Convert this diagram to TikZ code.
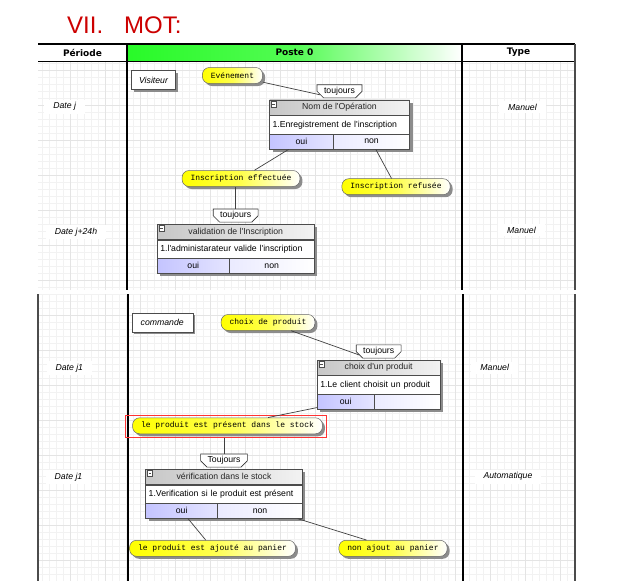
\documentclass[tikz,border=0pt]{standalone}
\usepackage{fontspec}
\setmainfont{Liberation Sans}[Ligatures=TeXOff]
\newfontfamily\pillfont{Liberation Mono}
\newfontfamily\headfont{DejaVu Sans}
\usetikzlibrary{positioning,shadows,shapes.misc}
\definecolor{titlered}{RGB}{204,0,0}
\definecolor{postegreen}{RGB}{40,250,40}
\definecolor{pillyellow}{RGB}{255,255,0}
\definecolor{lavender}{RGB}{196,196,255}
\definecolor{gridminor}{RGB}{242,242,242}
\definecolor{gridmajor}{RGB}{228,228,228}
\begin{document}
\begin{tikzpicture}[x=1pt, y=-1pt,
every node/.style={font=\fontsize{8.7pt}{10pt}\selectfont},
titletext/.style={text=titlered, inner sep=0pt, font=\fontsize{24pt}{28pt}\selectfont},
headtext/.style={inner sep=0pt, font=\headfont\bfseries\fontsize{9pt}{10pt}\selectfont},
postecell/.style={headtext, left color=postegreen, right color=white, middle color=postegreen!80!white},
datelabel/.style={fill=white, inner xsep=9pt, inner ysep=3pt, font=\itshape\fontsize{8.7pt}{10pt}\selectfont},
actorbox/.style={rectangle, draw=black!70, fill=white, minimum height=19pt, inner sep=0pt, font=\itshape\fontsize{8.7pt}{10pt}\selectfont, drop shadow={shadow xshift=2.5pt, shadow yshift=-2.5pt, fill=black!45, opacity=1}},
pill/.style={rectangle, rounded corners=7pt, draw=black!60, line width=0.5pt, left color=pillyellow, right color=white, middle color=pillyellow!70!white, minimum height=16pt, inner xsep=8.5pt, inner ysep=0pt, font=\pillfont\fontsize{8pt}{9pt}\selectfont, drop shadow={shadow xshift=2.5pt, shadow yshift=-2.5pt, fill=black!45, opacity=1}},
tagbox/.style={chamfered rectangle, chamfered rectangle corners={south west, south east}, chamfered rectangle xsep=4pt, chamfered rectangle ysep=2.5pt, draw=black!80, fill=white, line width=0.6pt, inner xsep=3pt, inner ysep=0pt},
opframe/.style={rectangle, draw=black!70, fill=white, line width=0.7pt, minimum height=49pt, inner sep=0pt, drop shadow={shadow xshift=3pt, shadow yshift=-3pt, fill=black!45, opacity=1}},
ophead/.style={rectangle, draw=black!70, line width=0.6pt, left color=black!22, right color=black!5, minimum height=15pt, inner sep=0pt, text=black!85},
opbody/.style={rectangle, draw=black!70, line width=0.6pt, fill=white, minimum height=19pt, inner xsep=3pt, inner ysep=0pt, align=left},
opyes/.style={rectangle, draw=black!70, line width=0.6pt, left color=lavender, right color=lavender!45, minimum height=15pt, inner sep=0pt},
opno/.style={rectangle, draw=black!70, line width=0.6pt, left color=lavender!35, right color=white, minimum height=15pt, inner sep=0pt},
opmin/.style={rectangle, draw=black!70, fill=white, line width=0.5pt, minimum size=5.5pt, inner sep=0pt, path picture={\draw ([xshift=-1.2pt]path picture bounding box.center) -- ([xshift=1.2pt]path picture bounding box.center);}},
redframe/.style={rectangle, draw=red!80, line width=0.6pt, inner sep=0pt},
link/.style={draw=black!75, line width=0.7pt},
]
\useasboundingbox (0,0) rectangle (622,581);
%Grid
\draw[gridminor, step=7pt] (38,61) grid (575,290);
\draw[gridmajor, step=35pt] (38,61) grid (575,290);
\draw[gridminor, step=7pt] (38,294) grid (575,581);
\draw[gridmajor, step=35pt] (38,294) grid (575,581);
%Title and header
\node[titletext, anchor=base west] (title) at (67,33.3) {VII.\hspace{21pt}MOT:};
\node[postecell, minimum width=335pt, minimum height=17pt] (hposte) at (294.5,52.5) {Poste 0};
\node[headtext] (hperiode) at (82.5,52.5) {Période};
\node[headtext] (htype) at (518.5,52.5) {Type};
\draw[black, line width=1.6pt] (38,44) -- (575,44);
\draw[black, line width=1pt] (38,61) -- (575,61);
\draw[black, line width=1.6pt] (127,44) -- (127,290);
\draw[black, line width=1.6pt] (462,44) -- (462,290);
\draw[black!70, line width=1.6pt] (575,44) -- (575,290);
\draw[black!70, line width=1.6pt] (38,294) -- (38,581);
\draw[black, line width=1.6pt] (128,294) -- (128,581);
\draw[black, line width=1.6pt] (463,294) -- (463,581);
\draw[black!70, line width=1.6pt] (575,294) -- (575,581);
%Periods and types
\node[datelabel] (datej) at (64.7,106.7) {Date j};
\node[datelabel] (datej24) at (76,232) {Date j+24h};
\node[datelabel] (datejone) at (69.3,367.8) {Date j1};
\node[datelabel] (datejtwo) at (68.5,477) {Date j1};
\node[datelabel] (typea) at (522.5,107) {Manuel};
\node[datelabel] (typeb) at (521.5,230) {Manuel};
\node[datelabel] (typec) at (494.7,367.8) {Manuel};
\node[datelabel] (typed) at (508,476.7) {Automatique};
%Nodes (inscription)
\node[actorbox, minimum width=44pt] (visiteur) at (153.5,80) {Visiteur};
\node[pill] (evt) at (232.5,75.5) {Evénement};
\node[opframe, minimum width=140pt] (op1) at (339.5,124.5) {};
\node[ophead, minimum width=140pt, anchor=north] (op1head) at (op1.north) {Nom de l'Opération};
\node[opbody, text width=134pt, anchor=north] (op1body) at (op1head.south) {1.Enregistrement de l'inscription};
\node[opyes, minimum width=64pt, anchor=south west] (op1oui) at (op1.south west) {oui};
\node[opno, minimum width=76pt, anchor=south east] (op1non) at (op1.south east) {non};
\node[opmin, anchor=north west] (op1min) at ([shift={(1.5pt,-1.5pt)}]op1.north west) {};
\node[tagbox, anchor=south] (tag1) at ([yshift=1.5pt]op1.north) {toujours};
\node[pill] (effectuee) at (241,178.5) {Inscription effectuée};
\node[pill] (refusee) at (396,186.7) {Inscription refusée};
\node[opframe, minimum width=156.7pt] (op2) at (235.7,248.8) {};
\node[ophead, minimum width=156.7pt, anchor=north] (op2head) at (op2.north) {validation de l'Inscription};
\node[opbody, text width=150.7pt, anchor=north] (op2body) at (op2head.south) {1.l'administarateur valide l'inscription};
\node[opyes, minimum width=72pt, anchor=south west] (op2oui) at (op2.south west) {oui};
\node[opno, minimum width=84.7pt, anchor=south east] (op2non) at (op2.south east) {non};
\node[opmin, anchor=north west] (op2min) at ([shift={(1.5pt,-1.5pt)}]op2.north west) {};
\node[tagbox, anchor=south] (tag2) at ([yshift=1.5pt]op2.north) {toujours};
%Nodes (commande)
\node[actorbox, minimum width=61pt] (commande) at (162.2,322.3) {commande};
\node[pill] (choix) at (268,322.5) {choix de produit};
\node[opframe, minimum width=122.7pt] (op3) at (378.7,384.7) {};
\node[ophead, minimum width=122.7pt, anchor=north] (op3head) at (op3.north) {choix d'un produit};
\node[opbody, text width=116.7pt, anchor=north] (op3body) at (op3head.south) {1.Le client choisit un produit};
\node[opyes, minimum width=56.7pt, anchor=south west] (op3oui) at (op3.south west) {oui};
\node[opno, minimum width=66pt, anchor=south east] (op3non) at (op3.south east) {};
\node[opmin, anchor=north west] (op3min) at ([shift={(1.5pt,-1.5pt)}]op3.north west) {};
\node[tagbox, anchor=south] (tag3) at ([yshift=1.5pt]op3.north) {toujours};
\node[redframe, minimum width=201.4pt, minimum height=22.3pt] (hl) at (226,426.2) {};
\node[pill] (present) at (227.5,425.8) {le produit est présent dans le stock};
\node[opframe, minimum width=156.6pt] (op4) at (224,493.8) {};
\node[ophead, minimum width=156.6pt, anchor=north] (op4head) at (op4.north) {vérification dans le stock};
\node[opbody, text width=150.6pt, anchor=north] (op4body) at (op4head.south) {1.Verification si le produit est présent};
\node[opyes, minimum width=72pt, anchor=south west] (op4oui) at (op4.south west) {oui};
\node[opno, minimum width=84.6pt, anchor=south east] (op4non) at (op4.south east) {non};
\node[opmin, anchor=north west] (op4min) at ([shift={(1.5pt,-1.5pt)}]op4.north west) {};
\node[tagbox, anchor=south] (tag4) at ([yshift=1.5pt]op4.north) {Toujours};
\node[pill] (ajoute) at (212.5,548.3) {le produit est ajouté au panier};
\node[pill] (nonajout) at (393,548.3) {non ajout au panier};
%Lines
\draw[link] (evt) -- (tag1.south west);
\draw[link] (op1oui) -- (effectuee);
\draw[link] (op1non) -- (refusee);
\draw[link] (effectuee.south -| tag2.north) -- (tag2.north);
\draw[link] (choix) -- (tag3.south west);
\draw[link] (op3oui) -- (present);
\draw[link] (hl.south -| tag4.north) -- (tag4.north);
\draw[link] (op4oui) -- (ajoute);
\draw[link] ([xshift=-5pt]op4non.south east) -- (nonajout);
\end{tikzpicture}
\end{document}
